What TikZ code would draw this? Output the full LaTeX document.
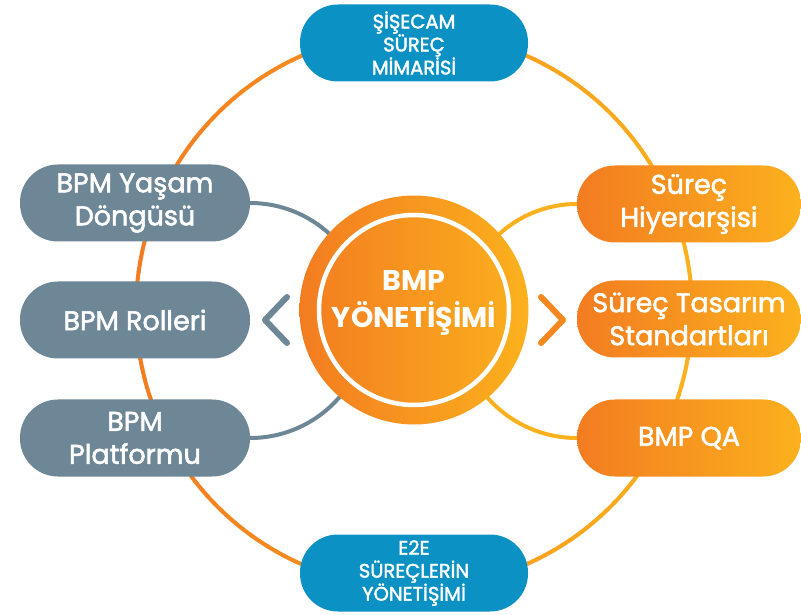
\documentclass[tikz,border=0pt]{standalone}
\usepackage{fontspec}
\setmainfont{Poppins}
\newfontfamily\pmed{Poppins}[FakeBold=2]
\definecolor{org}{HTML}{F37C21}
\definecolor{ylw}{HTML}{FBB11D}
\definecolor{gry}{HTML}{6E8796}
\definecolor{blu}{HTML}{0B91C3}
\tikzset{
  pill/.style={rectangle, rounded corners=38pt, minimum height=77pt, inner sep=0pt, align=center, text=white},
  greypill/.style={pill, fill=gry, minimum width=230pt, font=\pmed\fontsize{27}{33}\selectfont},
  orgpill/.style={pill, left color=org, right color=ylw, minimum width=224pt, font=\pmed\fontsize{27}{33}\selectfont},
  bluepill/.style={pill, fill=blu, minimum width=228pt, font=\pmed\fontsize{19.5}{23}\selectfont},
  link/.style={line width=4pt},
  chev/.style={line width=6pt, line cap=round, line join=round}
}
\begin{document}
\begin{tikzpicture}[x=1pt,y=1pt]
\useasboundingbox (0,0) rectangle (801,614);
\fill[white] (0,0) rectangle (801,614);
\coordinate (ring) at (414,304);
% big ring with horizontal gradient
\foreach \a in {0,2,...,358}{
  \pgfmathsetmacro\t{50+50*cos(\a+1)}
  \draw[line width=4pt, color=ylw!\t!org] (ring) ++(\a:278) arc[start angle=\a, end angle=\a+2.3, radius=278];
}
% pills
\node[bluepill] (top) at (414,571) {ŞİŞECAM\\SÜREÇ\\MİMARİSİ};
\node[bluepill] (bot) at (414,41) {E2E\\SÜREÇLERİN\\YÖNETİŞİMİ};
\node[greypill] (l1) at (135,411) {BPM Yaşam\\Döngüsü};
\node[greypill] (l2) at (135,294) {BPM Rolleri};
\node[greypill] (l3) at (135,176) {BPM\\Platformu};
\node[orgpill] (r1) at (689,410) {Süreç\\Hiyerarşisi};
\node[orgpill] (r2) at (689,295) {Süreç Tasarım\\Standartları};
\node[orgpill] (r3) at (689,176) {BMP QA};
% arcs to the centre
\draw[link, gry] (l1.east) arc[start angle=90, end angle=30, radius=117];
\draw[link, gry] (l3.east) arc[start angle=-90, end angle=-30, radius=118];
\draw[link, ylw] (r1.west) arc[start angle=90, end angle=150, radius=115];
\draw[link, ylw] (r3.west) arc[start angle=-90, end angle=-150, radius=119];
% centre circle
\node[circle, minimum size=229pt, inner sep=0pt, left color=org, right color=ylw] (c) at (414,304) {};
\draw[white, line width=4.5pt] (c.center) circle[radius=95];
\node[text=white, align=center, font=\bfseries\fontsize{28.5}{37}\selectfont, inner sep=0pt] (ct) at (414,311) {BMP\\YÖNETİŞİMİ};
% chevrons
\coordinate (lt) at (265,294);
\coordinate (la) at (287,317);
\coordinate (lb) at (287,271);
\draw[chev, gry] (la) -- (lt) -- (lb);
\coordinate (rt) at (563,294);
\coordinate (ra) at (541,317);
\coordinate (rb) at (541,271);
\draw[chev, color=org!80!ylw] (ra) -- (rt) -- (rb);
\end{tikzpicture}
\end{document}
